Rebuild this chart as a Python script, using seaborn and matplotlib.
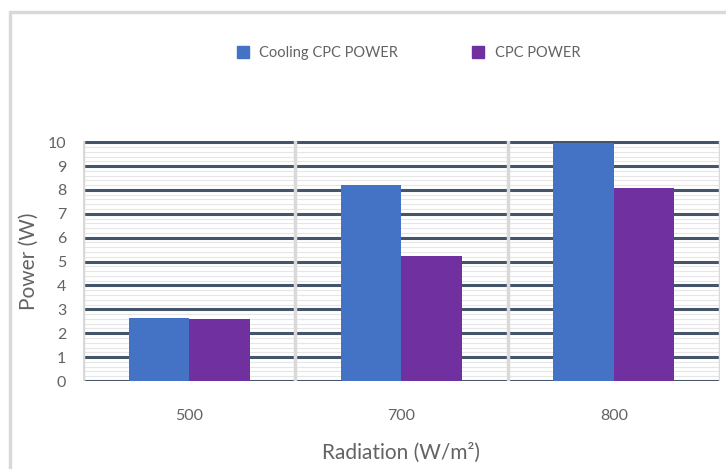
import matplotlib
matplotlib.use("Agg")
import matplotlib.pyplot as plt
import seaborn as sns
import pandas as pd
import numpy as np
from matplotlib.lines import Line2D

categories = ["500", "700", "800"]
cooling_cpc = [2.64, 8.2, 9.95]
cpc = [2.58, 5.24, 8.1]
series_names = ["Cooling CPC POWER", "CPC POWER"]
colors = ["#4472C4", "#7030A0"]

df = pd.DataFrame({
    "Radiation": categories * 2,
    "Power": cooling_cpc + cpc,
    "Series": [series_names[0]] * 3 + [series_names[1]] * 3,
})

sns.set_theme(style="white")
plt.rcParams["font.family"] = ["Lato", "DejaVu Sans"]
txt = "#636363"

fig = plt.figure(figsize=(7.26, 4.69), dpi=100)
ax = fig.add_axes([0.1143, 0.1876, 0.8774, 0.5118])

# minor light stripes
for v in np.arange(0, 10.01, 0.2):
    ax.axhline(v, color="#E6E6E6", lw=0.8, zorder=0)
# major gridlines
for v in range(0, 11):
    ax.axhline(v, color="#44546A", lw=2.2, zorder=0.5)
# category separators
for xv in [-0.5, 0.5, 1.5, 2.5]:
    ax.axvline(xv, color="#D9D9D9", lw=2.5, zorder=0.8)

sns.barplot(data=df, x="Radiation", y="Power", hue="Series", palette=colors,
            width=0.57, saturation=1, ax=ax, zorder=2, legend=False)
for p in ax.patches:
    p.set_edgecolor("none")

ax.set_xlim(-0.5, 2.5)
ax.set_ylim(0, 10.05)
ax.set_yticks(range(0, 11))
ax.tick_params(axis="y", labelsize=11.5, colors=txt, length=0, pad=12)
ax.tick_params(axis="x", labelsize=11.5, colors=txt, length=0, pad=20)
ax.set_ylabel("Power (W)", fontsize=15, color=txt, labelpad=6)
ax.set_xlabel("Radiation (W/m²)", fontsize=15, color=txt, labelpad=14)

handles = [Line2D([], [], marker="s", linestyle="none", markersize=8,
                  markerfacecolor=c, markeredgecolor=c) for c in colors]
fig.legend(handles, series_names, loc="center", bbox_to_anchor=(0.557, 0.887),
           ncol=2, frameon=False, fontsize=10.5, handletextpad=0.1,
           columnspacing=4.5, labelcolor=txt)
for s in ax.spines.values():
    s.set_visible(False)

# outer border lines (top and left)
fig.add_artist(Line2D([0.0138, 1.0], [0.974, 0.974], transform=fig.transFigure,
                      color="#D9D9D9", lw=2.5))
fig.add_artist(Line2D([0.0138, 0.0138], [0.0, 0.974], transform=fig.transFigure,
                      color="#D9D9D9", lw=2.5))

fig.savefig("out.png", dpi=100, facecolor="white")
